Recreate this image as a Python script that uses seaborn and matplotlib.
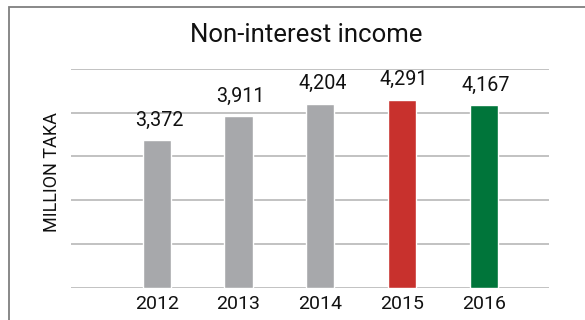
import matplotlib
matplotlib.use("Agg")
import matplotlib.pyplot as plt
from matplotlib.patches import Rectangle
import seaborn as sns
import pandas as pd

years = ["2012", "2013", "2014", "2015", "2016"]
income = [3372, 3911, 4204, 4291, 4167]
bar_colors = ["#a7a8ab", "#a7a8ab", "#a7a8ab", "#c8312d", "#00753a"]
title = "Non-interest income"
ylabel = "MILLION TAKA"

sns.set_theme(style="white")
plt.rcParams["font.family"] = ["Roboto", "DejaVu Sans"]

df = pd.DataFrame({"year": years, "income": income})

fig = plt.figure(figsize=(5.85, 3.2), dpi=100)
ax = fig.add_axes([0.1214, 0.1009, 0.8171, 0.6844])

sns.barplot(data=df, x="year", y="income", hue="year", palette=bar_colors,
            legend=False, width=0.346, saturation=1, ax=ax, zorder=3)

ax.set_ylim(0, 5000)
ax.set_xlim(-1.05, 4.8)
ax.set_yticks(range(0, 5001, 1000))
ax.set_yticklabels([])
ax.yaxis.grid(True, color="#b8b8b8", linewidth=1.2, zorder=0)
ax.xaxis.grid(False)
for s in ax.spines.values():
    s.set_visible(False)
ax.tick_params(axis="both", length=0)
ax.tick_params(axis="x", labelsize=14, pad=5.5, colors="#111111")
for lbl in ax.get_xticklabels():
    lbl.set_x(lbl.get_position()[0])
ax.set_xlabel("")
ax.set_ylabel("")

for i, v in enumerate(income):
    ax.annotate(f"{v:,}", (i, v), xytext=(1.5, 7.5), textcoords="offset points",
                ha="center", va="bottom", fontsize=14.2, color="#111111")

fig.text(306 / 585, 1 - 35 / 320, title, ha="center", va="center",
         fontsize=18.5, color="#111111")
fig.text(52 / 585, 1 - 172 / 320, ylabel, ha="center", va="center",
         rotation=90, fontsize=13, color="#111111")

fig.patches.append(Rectangle((9 / 585, -0.1), 1.2, 1.1 - 7 / 320,
                             transform=fig.transFigure, fill=False,
                             edgecolor="#7f7f7f", linewidth=1.3))

fig.savefig("out.png", dpi=100)
